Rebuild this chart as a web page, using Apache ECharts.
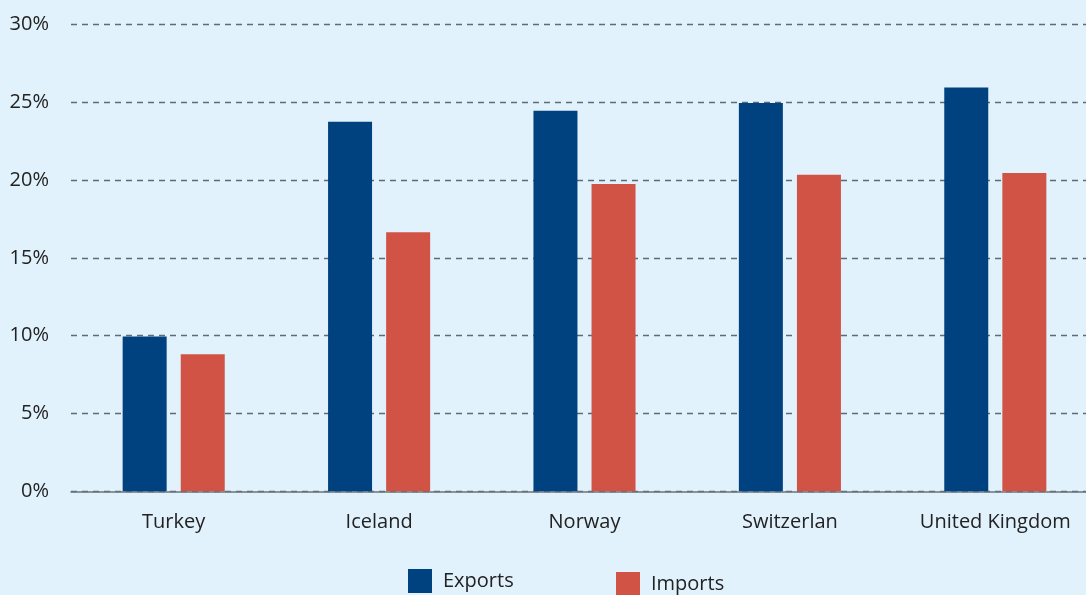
<!DOCTYPE html>
<html><head><meta charset="utf-8">
<script src="https://cdn.jsdelivr.net/npm/echarts@6/dist/echarts.min.js"></script>
<style>html,body{margin:0;padding:0;background:#E1F2FC;}#c{width:1086px;height:595px;}</style>
</head><body><div id="c"></div>
<script>
const categories = ['Turkey', 'Iceland', 'Norway', 'Switzerlan', 'United Kingdom'];
const exportsData = [9.95, 23.75, 24.45, 24.95, 25.95];
const importsData = [8.8, 16.65, 19.75, 20.35, 20.45];
const yTicks = { min: 0, max: 30, interval: 5 };

const chart = echarts.init(document.getElementById('c'));
const font = 'Open Sans';
chart.setOption({
  backgroundColor: '#E1F2FC',
  animation: false,
  grid: { left: 71, width: 1027, top: 24.5, height: 466.8, outerBoundsMode: 'none', containLabel: false },
  legend: [
    { data: ['Exports'], left: 408, top: 569, padding: 0, itemWidth: 24, itemHeight: 24, icon: 'rect',
      textStyle: { fontFamily: font, fontSize: 20, color: '#222', padding: [0, 0, 0, 6] } },
    { data: ['Imports'], left: 616, top: 572, padding: 0, itemWidth: 24, itemHeight: 24, icon: 'rect',
      textStyle: { fontFamily: font, fontSize: 20, color: '#222', padding: [0, 0, 0, 6] } }
  ],
  xAxis: {
    type: 'category', data: categories,
    axisTick: { show: false },
    axisLine: { lineStyle: { color: '#6b7479', width: 1.5 }, z: 10 },
    axisLabel: { fontFamily: font, fontSize: 20, color: '#222', margin: 21 }
  },
  yAxis: {
    type: 'value', min: yTicks.min, max: yTicks.max, interval: yTicks.interval,
    axisLine: { show: false }, axisTick: { show: false },
    axisLabel: { formatter: '{value}%', fontFamily: font, fontSize: 20, color: '#222', margin: 22 },
    splitLine: { lineStyle: { type: [6, 5], color: '#5f6a72', width: 1.3 } }
  },
  series: [
    { name: 'Exports', type: 'bar', data: exportsData, barWidth: 44, barGap: '32%',
      itemStyle: { color: '#00427F' } },
    { name: 'Imports', type: 'bar', data: importsData, barWidth: 44,
      itemStyle: { color: '#D05345' } }
  ]
});
</script></body></html>
